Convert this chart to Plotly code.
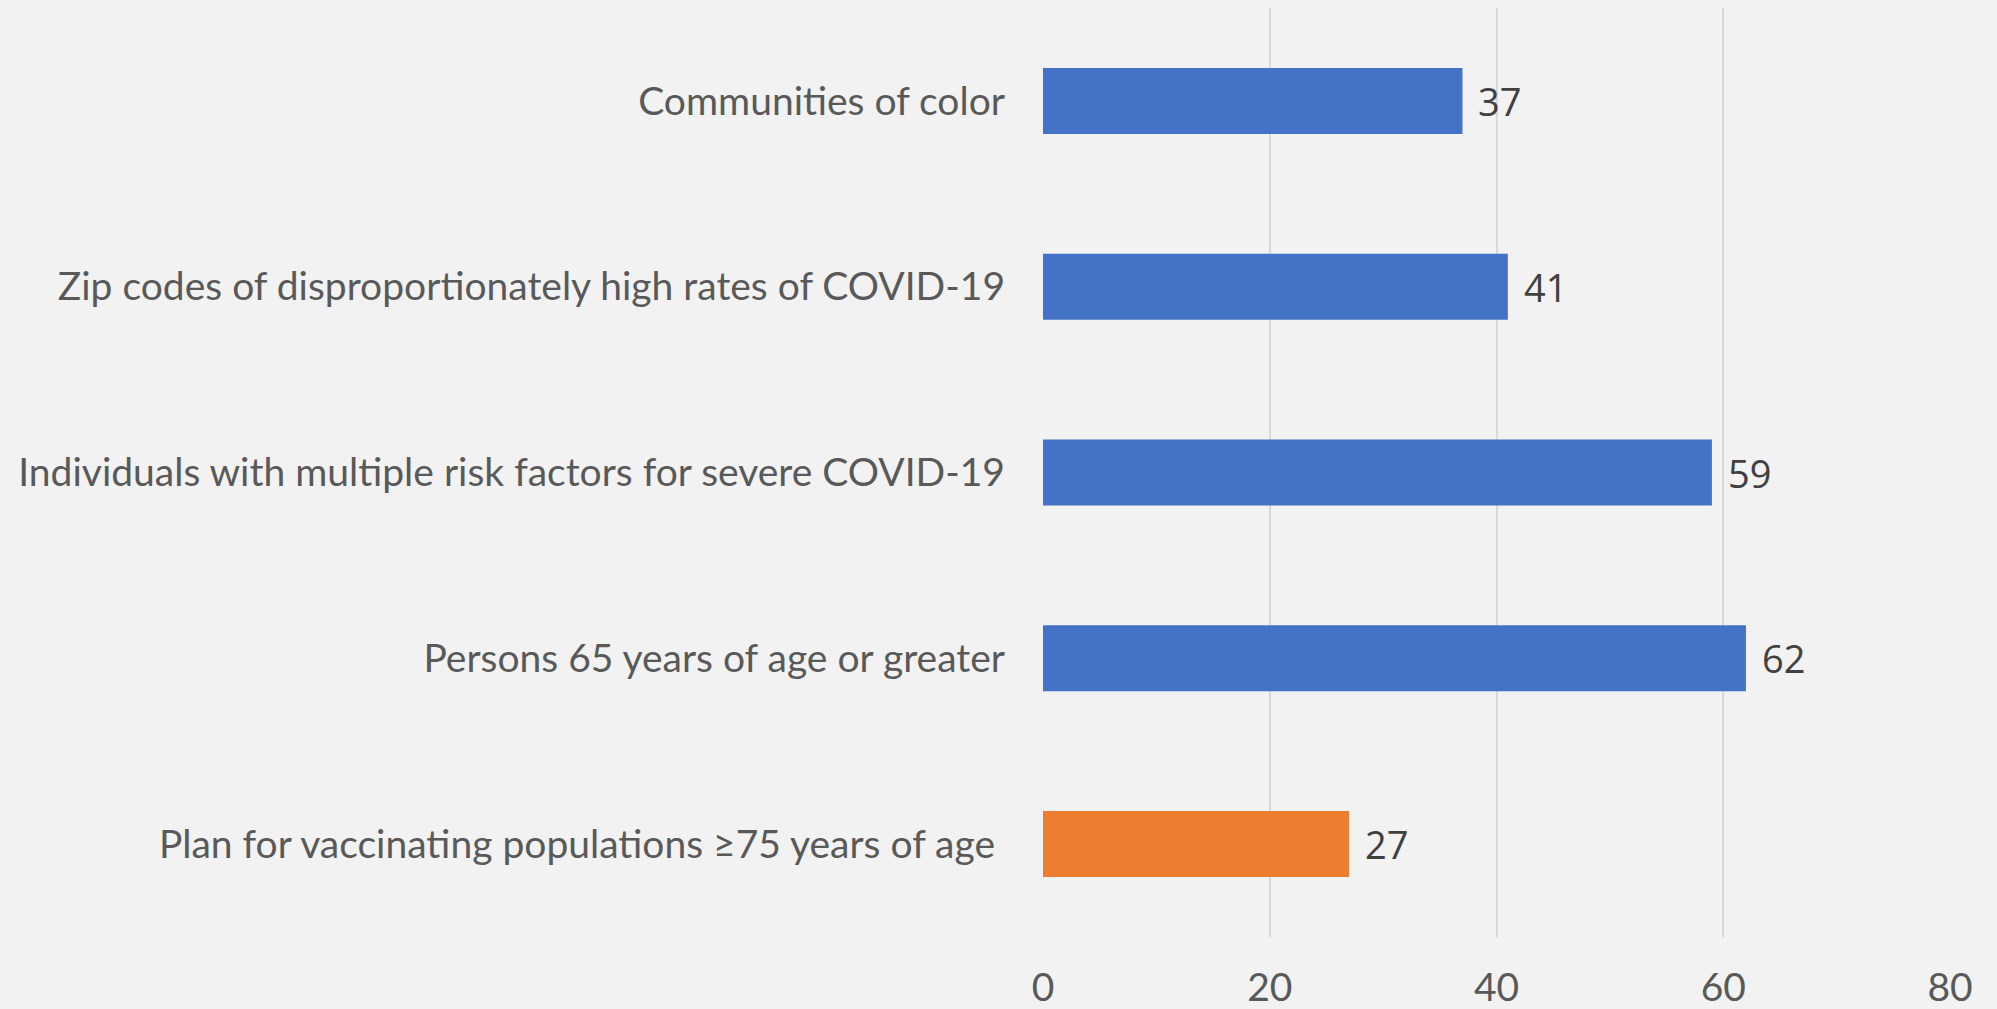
import plotly.graph_objects as go

categories = [
    "Plan for vaccinating populations \u226575 years of age\u00a0",
    "Persons 65 years of age or greater",
    "Individuals with multiple risk factors for severe COVID-19",
    "Zip codes of disproportionately high rates of COVID-19",
    "Communities of color",
]
values = [27, 62, 59, 41, 37]
bar_colors = ["#ED7D31", "#4472C4", "#4472C4", "#4472C4", "#4472C4"]
x_ticks = [0, 20, 40, 60, 80]

FONT = "Lato, Open Sans, sans-serif"

fig = go.Figure()
fig.add_trace(go.Bar(
    x=values, y=categories, orientation="h",
    marker=dict(color=bar_colors, line=dict(width=0)),
    hoverinfo="x+y",
))

for v, c in zip(values, categories):
    fig.add_annotation(
        x=v, y=c, text=str(v), showarrow=False,
        xanchor="left", yanchor="middle", xshift=14,
        font=dict(family="Open Sans, sans-serif", size=38, color="#404040"),
    )

fig.update_layout(
    width=1997, height=1009,
    paper_bgcolor="#F2F2F2", plot_bgcolor="#F2F2F2",
    margin=dict(l=1043, r=47, t=8, b=72, autoexpand=False),
    bargap=0.645,
    showlegend=False,
    font=dict(family=FONT, size=39, color="#595959"),
)
fig.update_xaxes(
    range=[0, 80], tickvals=x_ticks, showgrid=True, gridcolor="#D9D9D9",
    gridwidth=2, zeroline=False, showline=False, ticks="",
    ticklabelstandoff=24, automargin=False,
    tickfont=dict(family=FONT, size=39, color="#595959"),
)
fig.update_yaxes(
    categoryorder="array", categoryarray=categories,
    range=[-0.5, 4.5], showgrid=False, zeroline=False, showline=False,
    ticks="", ticklabelstandoff=37, automargin=False,
    tickfont=dict(family=FONT, size=39, color="#595959"),
)

fig.write_html("out.html")
